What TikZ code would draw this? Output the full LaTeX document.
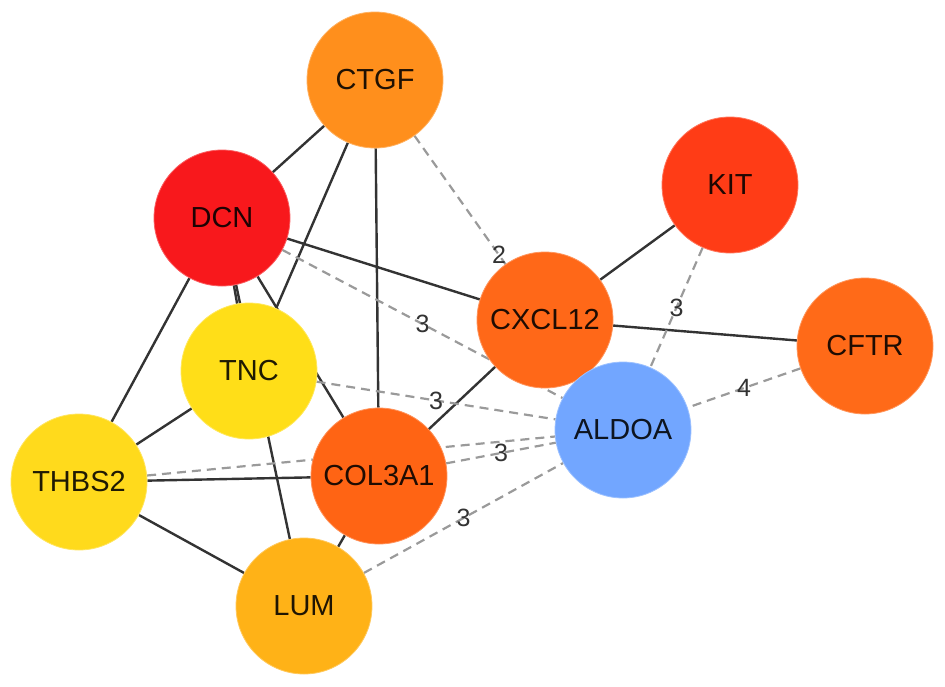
\documentclass[tikz,border=0pt]{standalone}
\usepackage{fontspec}
\setmainfont{Liberation Sans}
\usetikzlibrary{backgrounds}
\definecolor{cCTGF}{HTML}{FF8F1C}
\definecolor{cDCN}{HTML}{F8181C}
\definecolor{cKIT}{HTML}{FF3C16}
\definecolor{cCXCL}{HTML}{FF6818}
\definecolor{cCFTR}{HTML}{FF6A18}
\definecolor{cCOL}{HTML}{FF6414}
\definecolor{cTNC}{HTML}{FFDE18}
\definecolor{cTHBS}{HTML}{FFDA1C}
\definecolor{cLUM}{HTML}{FFB217}
\definecolor{cALDOA}{HTML}{72A6FF}
\definecolor{solidedge}{HTML}{333333}
\definecolor{dashedge}{HTML}{9A9A9A}
\definecolor{lbl}{HTML}{333333}
\tikzset{
  gene/.style={circle, fill=#1, draw=#1!70!white, line width=0.8pt, minimum size=136pt, inner sep=0pt,
    font=\fontsize{29}{29}\selectfont, text=black, text opacity=0.88},
  solidlink/.style={draw=solidedge, line width=2.4pt},
  dashlink/.style={draw=dashedge, line width=2.2pt, dash pattern=on 9pt off 6pt},
  wlabel/.style={font=\fontsize{25}{25}\selectfont, text=lbl, inner sep=0pt}
}
\begin{document}
\begin{tikzpicture}[x=1pt,y=-1pt]
\useasboundingbox (0,0) rectangle (945,686);
\node[gene=cCTGF]  (CTGF)   at (375,80)  {CTGF};
\node[gene=cDCN]   (DCN)    at (222,218) {DCN};
\node[gene=cKIT]   (KIT)    at (730,185) {KIT};
\node[gene=cCXCL]  (CXCL12) at (545,320) {CXCL12};
\node[gene=cCFTR]  (CFTR)   at (865,346) {CFTR};
\node[gene=cTNC]   (TNC)    at (249,371) {TNC};
\node[gene=cALDOA] (ALDOA)  at (623,430) {ALDOA};
\node[gene=cTHBS]  (THBS2)  at (79,482)  {THBS2};
\node[gene=cCOL]   (COL3A1) at (379,476) {COL3A1};
\node[gene=cLUM]   (LUM)    at (304,606) {LUM};
\begin{scope}[on background layer]
  \draw[solidlink] (CTGF) -- (DCN);
  \draw[solidlink] (CTGF) -- (TNC);
  \draw[solidlink] (CTGF) -- (COL3A1);
  \draw[solidlink] (DCN) -- (CXCL12);
  \draw[solidlink] (DCN) -- (TNC);
  \draw[solidlink] (DCN) -- (LUM);
  \draw[solidlink] (DCN) -- (COL3A1);
  \draw[solidlink] (DCN) -- (THBS2);
  \draw[solidlink] (TNC) -- (THBS2);
  \draw[solidlink] (THBS2) -- (COL3A1);
  \draw[solidlink] (THBS2) -- (LUM);
  \draw[solidlink] (COL3A1) -- (LUM);
  \draw[solidlink] (COL3A1) -- (CXCL12);
  \draw[solidlink] (CXCL12) -- (KIT);
  \draw[solidlink] (CXCL12) -- (CFTR);
  \draw[dashlink] (CTGF) -- node[wlabel] {2} (ALDOA);
  \draw[dashlink] (DCN) -- node[wlabel] {3} (ALDOA);
  \draw[dashlink] (TNC) -- node[wlabel] {3} (ALDOA);
  \draw[dashlink] (THBS2) -- (ALDOA);
  \draw[dashlink] (COL3A1) -- node[wlabel] {3} (ALDOA);
  \draw[dashlink] (LUM) -- node[wlabel] {3} (ALDOA);
  \draw[dashlink] (KIT) -- node[wlabel] {3} (ALDOA);
  \draw[dashlink] (CFTR) -- node[wlabel] {4} (ALDOA);
\end{scope}
\end{tikzpicture}
\end{document}
